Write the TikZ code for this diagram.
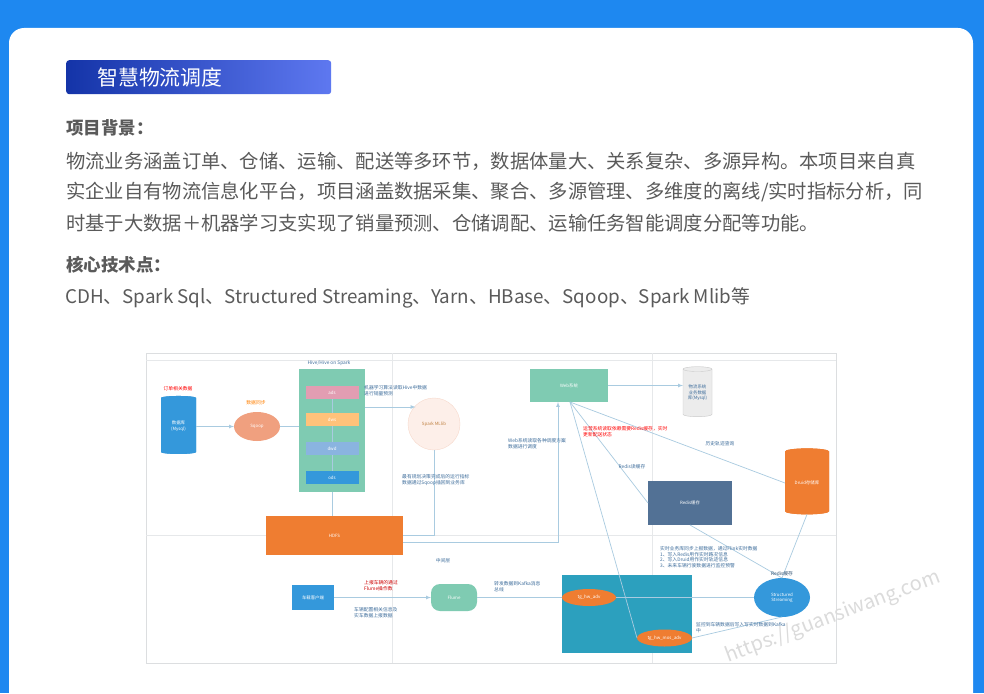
\documentclass[tikz,border=0pt]{standalone}
\usepackage{fontspec}
\setmainfont{Noto Sans CJK SC}
\usetikzlibrary{positioning,calc,shapes.geometric}
\definecolor{pageblue}{HTML}{1E88F0}
\definecolor{bannerl}{HTML}{1434A8}
\definecolor{bannerr}{HTML}{5E78F0}
\definecolor{bodygrey}{HTML}{5A5A5A}
\definecolor{gridgrey}{HTML}{E6E8EA}
\definecolor{framegrey}{HTML}{DCDEE0}
\definecolor{linkblue}{HTML}{A9CBE0}
\definecolor{noteblue}{HTML}{3F6E9C}
\definecolor{tealgreen}{HTML}{7FCBB2}
\definecolor{hdfsorange}{HTML}{EF7D31}
\definecolor{dbblue}{HTML}{3498DB}
\definecolor{slateblue}{HTML}{527195}
\definecolor{lakeblue}{HTML}{2CA0BE}
\definecolor{salmon}{HTML}{F0A07F}
\definecolor{layerpink}{HTML}{E29DB2}
\definecolor{layersand}{HTML}{FFC27A}
\definecolor{layersky}{HTML}{8AB4E0}
\definecolor{mistrose}{HTML}{FDEFE9}
\definecolor{mistline}{HTML}{F7D9CC}
\begin{document}
\begin{tikzpicture}[x=1pt,y=-1pt,
				block/.style={rectangle,minimum width=#1,outer sep=0pt,inner sep=0pt,text=white,font=\fontsize{4.4}{5.4}\selectfont,align=center},
				layer/.style={block=53pt,minimum height=13pt},
				drum/.style={cylinder,shape border rotate=90,aspect=0.25,outer sep=0pt,inner sep=0pt,cylinder uses custom fill,text=white,font=\fontsize{4.4}{5.4}\selectfont,align=center},
				oval/.style={ellipse,outer sep=0pt,inner sep=0pt,text=white,font=\fontsize{4.4}{5.4}\selectfont,align=center},
				note/.style={anchor=north west,inner sep=0pt,text=noteblue,font=\fontsize{4.8}{5.8}\selectfont,align=left},
				alert/.style={note,text=red},
				link/.style={draw=linkblue,line width=0.7pt},
				heading/.style={anchor=west,inner sep=0pt,text=bodygrey,font=\fontsize{17.5}{20}\selectfont\bfseries},
				bodyline/.style={anchor=west,inner sep=0pt,text=bodygrey,font=\fontsize{19.3}{22}\selectfont}]
				\useasboundingbox (0,0) rectangle (984,693);
				\fill[pageblue] (0,0) rectangle (984,693);
				\fill[white] (9,693) [rounded corners=15pt] -- (9,28) -- (973,28) [sharp corners] -- (973,693) -- cycle;

				% header
				\node (BANNER) [anchor=north west,minimum width=265pt,minimum height=34pt,inner sep=0pt,rounded corners=3pt,left color=bannerl,right color=bannerr] at (66,60) {};
				\node (TITLE)  [anchor=west,inner sep=0pt,text=white,font=\fontsize{20.9}{24}\selectfont] at (97,78) {智慧物流调度};
				\node (BG)     [heading] at (66,128) {项目背景：};
				\node (LINEA)  [bodyline] at (66,161) {物流业务涵盖订单、仓储、运输、配送等多环节，数据体量大、关系复杂、多源异构。本项目来自真};
				\node (LINEB)  [bodyline] at (66,192) {实企业自有物流信息化平台，项目涵盖数据采集、聚合、多源管理、多维度的离线/实时指标分析，同};
				\node (LINEC)  [bodyline] at (66,223) {时基于大数据＋机器学习支实现了销量预测、仓储调配、运输任务智能调度分配等功能。};
				\node (CORE)   [heading] at (66,265) {核心技术点：};
				\node (TECH)   [bodyline,font=\fontsize{18.8}{22}\selectfont] at (65,298) {CDH、Spark Sql、Structured Streaming、Yarn、HBase、Sqoop、Spark Mlib等};

				% frame of the picture
				\draw[framegrey,line width=0.8pt] (146,353) rectangle (836,663);
				\draw[gridgrey,line width=0.5pt] (146,360) -- (836,360) (146,535) -- (836,535) (392,353) -- (392,663) (652,353) -- (652,663);

				% nodes, upper half
				\node (MYSQL)  [drum,minimum width=35pt,minimum height=58pt,cylinder body fill=dbblue,cylinder end fill=dbblue,fill=dbblue] at (178.5,426) {数据库\\(Mysql)};
				\node (SQOOP)  [oval,fill=salmon,minimum width=46pt,minimum height=29pt] at (257,426.5) {Sqoop};
				\node (PANEL)  [block=66pt,fill=tealgreen,minimum height=123pt] at (332,430.5) {};
				\node (ADS)    [layer,fill=layerpink] at (332,392.5) {ads};
				\node (DWS)    [layer,fill=layersand,below=14pt of ADS] {dws};
				\node (DWD)    [layer,fill=layersky,below=16pt of DWS] {dwd};
				\node (ODS)    [layer,fill=dbblue,below=16pt of DWD] {ods};
				\node (MLLIB)  [circle,draw=mistline,fill=mistrose,outer sep=0pt,inner sep=0pt,minimum size=52pt,text=brown,font=\fontsize{4.4}{5.4}\selectfont] at (434,424) {Spark MLlib};
				\node (HDFS)   [block=137pt,fill=hdfsorange,minimum height=39pt] at (334.5,535.5) {HDFS};
				\node (WEB)    [block=78pt,fill=tealgreen,minimum height=33pt] at (569,385.5) {Web系统};
				\node (BIZDB)  [drum,minimum width=29pt,minimum height=50pt,draw=gray!40,cylinder body fill=gray!15,cylinder end fill=gray!25,fill=gray!15,text=noteblue] at (697.5,393) {物流系统\\业务数据\\库(Mysql)};
				\node (REDIS)  [block=84pt,fill=slateblue,minimum height=44pt] at (690,503) {Redis缓存};
				\node (DRUID)  [drum,minimum width=44pt,minimum height=66pt,cylinder body fill=hdfsorange,cylinder end fill=hdfsorange,fill=hdfsorange] at (807,483) {Druid存储库};

				% nodes, lower half
				\node (CLIENT) [block=42pt,fill=dbblue,minimum height=25pt] at (313,597.5) {车载客户端};
				\node (FLUME)  [block=46pt,fill=tealgreen,minimum height=27pt,rounded corners=9pt] at (454,597.5) {Flume};
				\node (KAFKA)  [block=130pt,fill=lakeblue,minimum height=78pt] at (627,614) {};
				\node (TOPICA) [oval,fill=hdfsorange,minimum width=54pt,minimum height=17pt] at (589,597.5) {tg\_hw\_adv};
				\node (TOPICB) [oval,fill=hdfsorange,minimum width=55pt,minimum height=17pt] at (664.5,638) {tg\_hw\_mos\_adv};
				\node (STREAM) [oval,fill=dbblue,minimum width=56pt,minimum height=39pt] at (782,597.5) {Structured\\Streaming};

				% free ends
				\coordinate (WEBFOOT) at (570,402);
				\coordinate (HDFSOUT) at (403,542);
				\coordinate (HDFSIN)  at (403,535);
				\coordinate (WEBDOWN) at (558,402);

				% connectors
				\draw[-latex,link] (MYSQL.east |- SQOOP) -- (SQOOP);
				\draw[link] (SQOOP) -- (SQOOP -| PANEL.west);
				\draw[link] (ADS) -- (DWS);
				\draw[link] (DWS) -- (DWD);
				\draw[link] (DWD) -- (ODS);
				\draw[link] (PANEL.south) -- (PANEL.south |- HDFS.north);
				\draw[-latex,link] (PANEL.east |- 0,407) -- (MLLIB.north west |- 0,407);
				\draw[link] (MLLIB.south) -- (HDFSIN -| MLLIB.south) -- (HDFSIN);
				\draw[-latex,link] (HDFSOUT) -| (WEBDOWN);
				\draw[-latex,link] (WEB.east) -- (WEB.east -| BIZDB.west);
				\draw[link] (WEBFOOT) -- (REDIS.west);
				\draw[link] (WEBFOOT) -- (DRUID.west);
				\draw[link] (WEBFOOT) -- (TOPICB.west);
				\draw[link] (REDIS.south) -- (STREAM.north);
				\draw[link] (DRUID.south) -- (STREAM.north);
				\draw[-latex,link] (CLIENT) -- (FLUME);
				\draw[link] (FLUME) -- (TOPICA);
				\draw[link] (TOPICA) -- (STREAM);
				\draw[link] (STREAM.south) -- (TOPICB.east);

				% labels
				\node (LBLORDER) [note,anchor=center,text=red] at (178,389) {订单相关数据};
				\node (LBLSYNC)  [note,anchor=center,text=orange] at (256,403) {数据同步};
				\node (LBLHIVE)  [note,anchor=center] at (329,363) {Hive/Hive on Spark};
				\node (LBLML)    [note] at (364,385) {机器学习算法读取Hive中数据\\进行销量预测};
				\node (LBLBACK)  [note] at (402,474) {最有规划决策完成后的运行指标\\数据通过Sqoop插回到业务库};
				\node (LBLWEB)   [note] at (508,438) {Web系统读取各种调度方案\\数据进行调度};
				\node (LBLRED)   [alert] at (583,426) {运营系统读取依赖需要Redis缓存，实时\\更新配送状态};
				\node (LBLREAD)  [note,anchor=center] at (632,467) {Redis读缓存};
				\node (LBLTRACK) [note,anchor=center] at (720,444) {历史轨迹查询};
				\node (LBLUP)    [alert,text=red!80!black] at (364,580) {上报车辆的通过\\Flume操作数};
				\node (LBLCONF)  [note] at (354,607) {车辆配置相关信息及\\实车数据上报数据};
				\node (LBLMID)   [note,anchor=center] at (443,561) {中间层};
				\node (LBLKAFKA) [note] at (494,581) {转发数据到Kafka消息\\总线};
				\node (LBLFLOW)  [note] at (660,546) {实时业务库同步上报数据，通过Flink实时数据\\1、写入Redis用作实时路况信息\\2、写入Druid用作实时轨迹信息\\3、未来车辆行驶数据进行监控预警};
				\node (LBLCACHE) [note,anchor=center,text=noteblue!70!black] at (782,574) {Redis缓存};
				\node (LBLWATCH) [note] at (696,622) {监控到车辆数据后写入写实时数据到Kafka\\中};

				% watermark
				\node (MARK) [rotate=20.7,inner sep=0pt,text=gray!28,font=\fontsize{20}{22}\selectfont] at (833,617) {https://guansiwang.com};
			\end{tikzpicture}
\end{document}
